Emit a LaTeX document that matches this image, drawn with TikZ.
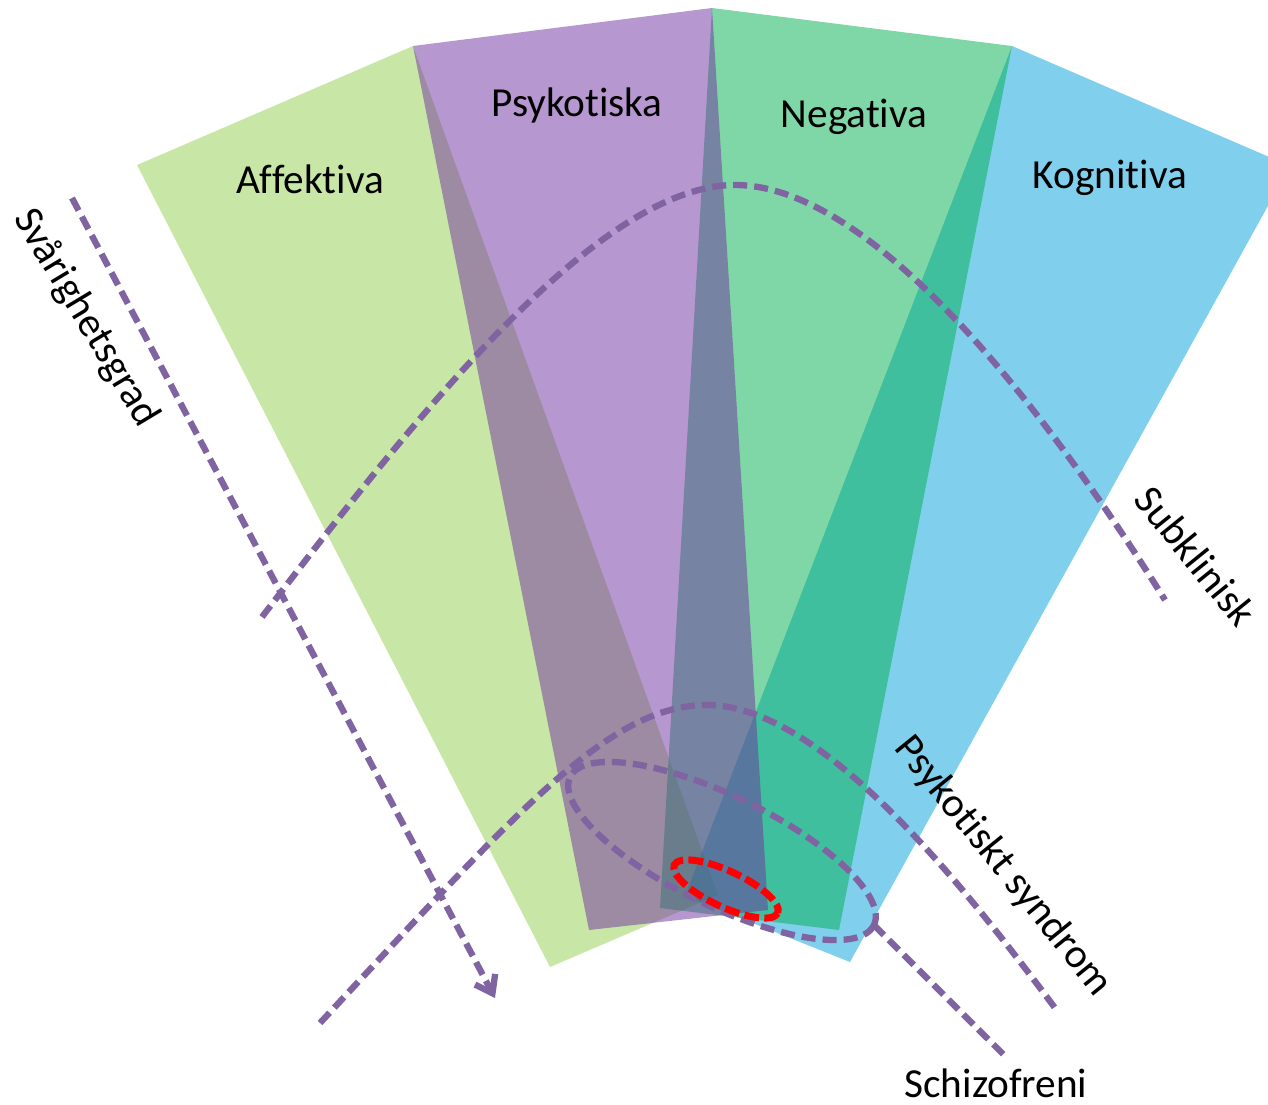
\documentclass[tikz,border=0pt]{standalone}
\usepackage{fontspec}
\setmainfont{Carlito}[Ligatures={NoCommon}]
\usetikzlibrary{arrows.meta}
\definecolor{affc}{HTML}{92D050}
\definecolor{kogc}{HTML}{00A0DC}
\definecolor{negc}{HTML}{00B050}
\definecolor{psyc}{HTML}{7030A0}
\definecolor{linec}{HTML}{8064A2}
\begin{document}
\begin{tikzpicture}[x=0.02cm,y=-0.02cm,
  band/.style={opacity=0.5},
  dline/.style={draw=linec, line width=3.6pt, dash pattern=on 8pt off 4pt},
  redline/.style={draw=red, line width=4pt, dash pattern=on 8.5pt off 3pt},
  lab/.style={font=\fontsize{23.5}{28}\selectfont, inner sep=0pt, text=black}]
\useasboundingbox (0,0) rectangle (1268,1105);
% bands
\fill[affc, band] (137,165) -- (413,46) -- (718,895) -- (550,967) -- cycle;
\fill[kogc, band] (1012,46) -- (1290,166) -- (850,962) -- (685,896) -- cycle;
\fill[negc, band] (712,8) -- (1012,46) -- (839,930) -- (660,908) -- cycle;
\fill[psyc, band] (413,46) -- (712,8) -- (768,910) -- (589,930) -- cycle;
% labels
\node[lab, anchor=base] (aff) at (310,194) {Affektiva};
\node[lab, anchor=base] (psy) at (577,116) {Psykotiska};
\node[lab, anchor=base] (neg) at (854,128) {Negativa};
\node[lab, anchor=base] (kog) at (1110,189) {Kognitiva};
\node[lab, anchor=base] (schz) at (996,1097) {Schizofreni};
\node[lab, rotate=-59] (svar) at (86,318) {Svårighetsgrad};
\node[lab, rotate=-51] (subk) at (1196,556) {Subklinisk};
\node[lab, rotate=-51] (psys) at (1003,866) {Psykotiskt syndrom};
% severity arrow
\coordinate (svA) at (72,198);
\coordinate (svB) at (495,998);
\draw[dline, -{Straight Barb[length=9pt,width=13pt]}] (svA) -- (svB);
% subclinical arc
\coordinate (subL) at (262,617);
\coordinate (subT) at (735,185);
\coordinate (subR) at (1165,600);
\draw[dline] (subL) .. controls (420,410) and (600,185) .. (subT)
  .. controls (870,185) and (1040,400) .. (subR);
% psychotic syndrome arc
\coordinate (psL) at (320,1023);
\coordinate (psT) at (707,705);
\coordinate (psR) at (1058,1012);
\draw[dline] (psL) .. controls (520,808) and (610,705) .. (psT)
  .. controls (820,705) and (960,880) .. (psR);
% schizophrenia ellipse
\begin{scope}[shift={(722,851)}, rotate=-26]
  \draw[dline] (0,0) ellipse [x radius=169, y radius=55];
  \coordinate (schzE) at (169,0);
\end{scope}
\coordinate (schzT) at (1007,1058);
\draw[dline] (schzE) -- (schzT);
% red ellipse
\begin{scope}[shift={(726,889)}, rotate=-25]
  \draw[redline] (0,0) ellipse [x radius=57, y radius=18];
\end{scope}
\end{tikzpicture}
\end{document}
